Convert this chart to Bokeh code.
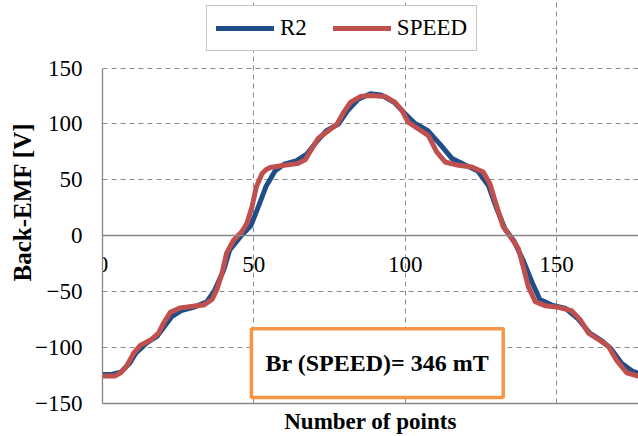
from bokeh.plotting import figure
from bokeh.models import (Range1d, FixedTicker, LinearAxis, Legend, LegendItem,
                          Label, BoxAnnotation)
from bokeh.embed import file_html
from bokeh.resources import INLINE

# ---- data ----
r2_x = [0, 3, 6, 9, 11, 14.5, 18, 20.5, 23, 26, 30, 34.5, 37, 40, 42, 45.5, 49, 51.5, 54, 57,
        60, 64, 67.5, 71, 74, 78, 81, 84.5, 88.5, 92, 96.5, 100, 103, 107.5, 111.5, 115.5, 120,
        124, 127.5, 130, 133, 136, 139, 142, 144.5, 148.5, 153, 157, 161, 165, 168, 171.5, 175, 178]
r2_y = [-124, -124, -122, -114, -105, -96, -90, -81, -72, -67, -64, -59, -49, -31, -13, -1, 9, 26, 44, 58,
        64, 67, 73, 85, 94, 100, 112, 122, 127, 126, 119, 109, 101, 94, 82, 69, 63,
        58, 45, 26, 6, -5, -22, -42, -57, -62, -65, -74, -87, -94, -101, -114, -121, -124]

speed_x = [0, 4, 6, 8, 10.3, 12.5, 16, 18.5, 20.2, 22.4, 25.7, 30, 33.4, 36.2, 37.8, 39.5, 41, 43.3,
           46, 47.7, 49.4, 50.8, 52.7, 54, 55.4, 60, 64.3, 67, 69.2, 71.4, 74.7, 77.5, 79.7, 82, 85.2,
           88.5, 93.3, 96.6, 99, 101, 104.4, 107.7, 110.4, 113.2, 117.6, 122, 125.8, 128, 130.3,
           132.4, 135.2, 137.4, 139, 140.7, 143, 146.2, 150.6, 155, 157.8, 160.6, 164, 167.2, 170,
           173.2, 177]
speed_y = [-125.5, -125.5, -122.5, -116.5, -105, -98, -93, -87, -78, -68.5, -64.5, -63, -62, -57, -48,
           -33.5, -15.5, -4, 3.5, 11, 26, 43.5, 55.5, 59, 61, 63, 64.5, 68, 78, 87.5, 94, 100, 110.5,
           119.5, 124.5, 125.5, 124.5, 119.5, 112, 101.5, 95.5, 89.5, 75, 66, 63, 61.5, 57, 46.5,
           26, 8, -2.5, -11.5, -27.5, -45.5, -59, -62.5, -64, -67, -75, -87, -93, -99, -112,
           -122.5, -125.5]

series_names = ["R2", "SPEED"]
x_ticks = [0, 50, 100, 150]
y_ticks = [-150, -100, -50, 0, 50, 100, 150]
x_title = "Number of points"
y_title = "Back-EMF [V]"
note_text = "Br (SPEED)= 346 mT"

FONT = "Liberation Serif"
BLUE = "#1F4E89"
RED = "#C0504D"
GRID = "#8c8c8c"
AXIS = "#868686"

Y_LO, Y_HI = y_ticks[0], y_ticks[-1]
# the frame reaches the top of the page so the legend can sit above the plotted area
y_top = Y_HI + 67.7 / (336.3 / (Y_HI - Y_LO))

p = figure(width=638, height=436, output_backend="svg", toolbar_location=None,
           x_range=Range1d(0, 177.1), y_range=Range1d(Y_LO, y_top),
           min_border_left=102, min_border_right=0, min_border_top=0, min_border_bottom=32,
           background_fill_color="white", border_fill_color="white")
p.outline_line_color = None

# grids
p.xgrid.ticker = FixedTicker(ticks=x_ticks)
p.ygrid.ticker = FixedTicker(ticks=y_ticks)
p.xgrid.bounds = (Y_LO, Y_HI)
for g in (p.xgrid[0], p.ygrid[0]):
    g.grid_line_color = GRID
    g.grid_line_dash = "5 4"
    g.grid_line_width = 1

# x axis crossing at zero (tick labels there)
ax0 = p.xaxis[0]
ax0.fixed_location = 0
ax0.ticker = FixedTicker(ticks=x_ticks)
ax0.axis_line_color = AXIS
ax0.axis_line_width = 1.3
ax0.major_tick_in = 0
ax0.major_tick_out = 0
ax0.minor_tick_line_color = None
ax0.major_label_text_font = FONT
ax0.major_label_text_font_size = "23px"
ax0.major_label_text_color = "black"
ax0.major_label_standoff = 21

# bottom axis carrying the title
ax1 = LinearAxis(ticker=FixedTicker(ticks=[]), axis_label=x_title)
ax1.axis_line_color = AXIS
ax1.axis_line_width = 1.3
ax1.major_tick_in = 0
ax1.major_tick_out = 0
ax1.minor_tick_line_color = None
ax1.axis_label_text_font = FONT
ax1.axis_label_text_font_style = "bold"
ax1.axis_label_text_font_size = "23px"
ax1.axis_label_text_color = "black"
ax1.axis_label_standoff = 5
p.add_layout(ax1, "below")

# y axis
ay = p.yaxis[0]
ay.ticker = FixedTicker(ticks=y_ticks)
ay.bounds = (Y_LO, Y_HI)
ay.axis_label = y_title
ay.axis_line_color = AXIS
ay.axis_line_width = 1.3
ay.major_tick_in = 0
ay.major_tick_out = 0
ay.minor_tick_line_color = None
ay.major_label_text_font = FONT
ay.major_label_text_font_size = "23px"
ay.major_label_text_color = "black"
ay.major_label_standoff = 20
ay.axis_label_text_font = FONT
ay.axis_label_text_font_style = "bold"
ay.axis_label_text_font_size = "25px"
ay.axis_label_text_color = "black"
ay.axis_label_standoff = -4

# series
l1 = p.line(r2_x, r2_y, line_color=BLUE, line_width=5, line_join="round", line_cap="round")
l2 = p.line(speed_x, speed_y, line_color=RED, line_width=5, line_join="round", line_cap="round")

legend = Legend(items=[LegendItem(label=series_names[0], renderers=[l1]),
                       LegendItem(label=series_names[1], renderers=[l2])],
                orientation="horizontal", location=(104, 352))
legend.label_text_font = FONT
legend.label_text_font_size = "23px"
legend.label_text_color = "black"
legend.glyph_width = 58
legend.glyph_height = 20
legend.label_standoff = 6
legend.spacing = 26
legend.padding = 9
legend.margin = 0
legend.border_line_color = "#8a8a8a"
legend.border_line_width = 1
legend.background_fill_color = "white"
legend.background_fill_alpha = 1
p.add_layout(legend)

# annotation box
box = BoxAnnotation(left=49.2, right=132.4, top=-83.1, bottom=-144.6,
                    fill_color="white", fill_alpha=1.0,
                    line_color="#F79646", line_alpha=1.0, line_width=3.5)
p.add_layout(box)
note = Label(x=90.8, y=-114.0, text=note_text, text_align="center", text_baseline="middle",
             text_font=FONT, text_font_style="bold", text_font_size="24px", text_color="black")
p.add_layout(note)

open("out.html", "w").write(file_html(p, INLINE))
